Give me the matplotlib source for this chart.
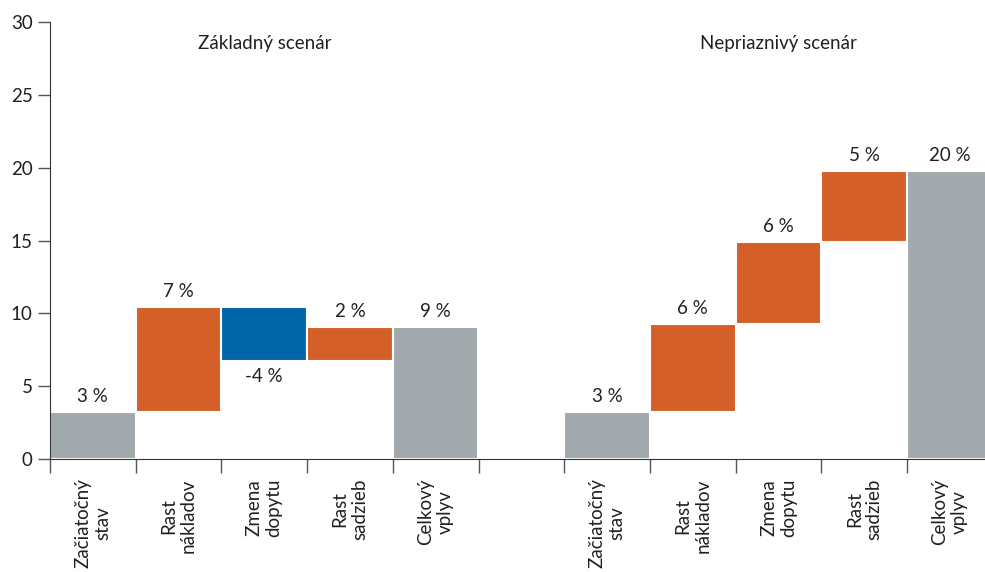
import matplotlib
matplotlib.use("Agg")
import matplotlib.pyplot as plt
import numpy as np

plt.rcParams["font.family"] = ["Lato", "DejaVu Sans"]

CATEGORIES = ["Začiatočný\nstav", "Rast\nnákladov", "Zmena\ndopytu", "Rast\nsadzieb", "Celkový\nvplyv"]
SCENARIOS = ["Základný scenár", "Nepriaznivý scenár"]

# start value, three changes, total (percent)
BASE_START = 3.23
BASE_DELTAS = [7.2, -3.7, 2.33]
BASE_TOTAL = 9.06
BASE_LABELS = ["3 %", "7 %", "-4 %", "2 %", "9 %"]

ADV_START = 3.23
ADV_DELTAS = [6.04, 5.63, 4.87]
ADV_TOTAL = 19.77
ADV_LABELS = ["3 %", "6 %", "6 %", "5 %", "20 %"]

GREY = "#A2A9AC"
ORANGE = "#D45F28"
BLUE = "#0066A8"
TEXT = "#231F20"
FS = 13.5

fig = plt.figure(figsize=(9.85, 5.72), dpi=100)
ax = fig.add_axes([50 / 985, 113 / 572, 935 / 985, 437 / 572])


def draw_group(x0, start, deltas, total, labels, title):
    xs = x0 + np.arange(5)
    bottoms, heights, colors = [0], [start], [GREY]
    level = start
    for d in deltas:
        bottoms.append(level if d >= 0 else level + d)
        heights.append(abs(d))
        colors.append(ORANGE if d >= 0 else BLUE)
        level += d
    bottoms.append(0)
    heights.append(total)
    colors.append(GREY)
    signs = [1] + [1 if d >= 0 else -1 for d in deltas] + [1]

    ax.bar(xs, heights, bottom=bottoms, width=1.0, color=colors,
           edgecolor="white", linewidth=1.5)
    for x, b, h, s, lab in zip(xs, bottoms, heights, signs, labels):
        if s > 0:
            ax.text(x, b + h + 0.5, lab, ha="center", va="bottom",
                    fontsize=FS, color=TEXT)
        else:
            ax.text(x, b - 0.5, lab, ha="center", va="top",
                    fontsize=FS, color=TEXT)
    ax.text(x0 + 2, 28.55, title, ha="center", va="center", fontsize=FS, color=TEXT)


draw_group(0, BASE_START, BASE_DELTAS, BASE_TOTAL, BASE_LABELS, SCENARIOS[0])
draw_group(6, ADV_START, ADV_DELTAS, ADV_TOTAL, ADV_LABELS, SCENARIOS[1])

ax.set_xlim(-0.5, -0.5 + 935 / 85.7)
ax.set_ylim(0, 30)
ax.set_yticks(np.arange(0, 31, 5))
ax.tick_params(axis="y", labelsize=FS, colors="#555555", labelcolor=TEXT, length=9, width=1)

# boundaries as major ticks, category names as minor tick labels
ax.set_xticks(np.arange(-0.5, 10, 1.0))
ax.set_xticklabels([])
ax.tick_params(axis="x", which="major", length=10, width=1, colors="#555555")
cat_pos = list(range(5)) + list(range(6, 11))
ax.set_xticks(cat_pos, minor=True)
ax.set_xticklabels(CATEGORIES * 2, minor=True, rotation=90, fontsize=FS,
                   color=TEXT, va="top", ha="center", multialignment="center")
ax.tick_params(axis="x", which="minor", length=0, pad=14)

for side in ["top", "right"]:
    ax.spines[side].set_visible(False)
ax.spines["left"].set_color("#333333")
ax.spines["bottom"].set_color("#333333")

fig.savefig("out.png", dpi=100)
